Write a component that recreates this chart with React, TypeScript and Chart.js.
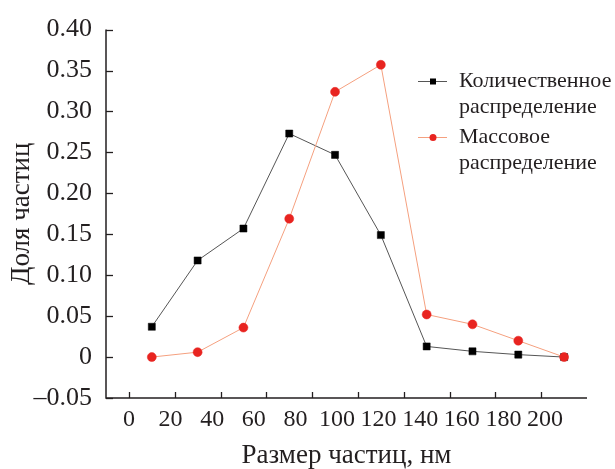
import React, { useEffect, useRef } from "react";
import { Chart, registerables } from "chart.js";

Chart.register(...registerables);

// ---- data ----
const particleSizes = [10, 30, 50, 70, 90, 110, 130, 150, 170, 190];
const countShare = [0.037, 0.118, 0.157, 0.273, 0.247, 0.149, 0.013, 0.007, 0.003, 0.0];
const massShare = [0.0, 0.006, 0.036, 0.169, 0.324, 0.357, 0.052, 0.04, 0.02, 0.0];
const xTickLabels = [0, 20, 40, 60, 80, 100, 120, 140, 160, 180, 200];
const xTickMarks = [0, 20, 40, 60, 80, 100, 120, 140, 160, 180];
const yTickValues = [-0.05, 0, 0.05, 0.1, 0.15, 0.2, 0.25, 0.3, 0.35, 0.4];
const seriesNames = [
  ["Количественное", "распределение"],
  ["Массовое", "распределение"],
];
const xTitle = "Размер частиц, нм";
const yTitle = "Доля частиц";

const FONT = "'Liberation Serif', 'Times New Roman', serif";
const TEXT = "#231f20";

const axesPlugin = {
  id: "axesInward",
  beforeDatasetsDraw(chart: any) {
    const { ctx, chartArea, scales } = chart;
    const { left, right, top, bottom } = chartArea;
    ctx.save();
    ctx.strokeStyle = TEXT;
    ctx.lineWidth = 1.5;
    ctx.beginPath();
    ctx.moveTo(left, top);
    ctx.lineTo(left, bottom);
    ctx.lineTo(right, bottom);
    ctx.stroke();
    ctx.lineWidth = 1.3;
    for (const v of yTickValues) {
      const py = Math.round(scales.y.getPixelForValue(v)) + 0.5;
      ctx.beginPath();
      ctx.moveTo(left, py);
      ctx.lineTo(left + 7, py);
      ctx.stroke();
    }
    for (const v of xTickMarks) {
      const px = Math.round(scales.xd.getPixelForValue(v)) + 0.5;
      ctx.beginPath();
      ctx.moveTo(px, bottom);
      ctx.lineTo(px, bottom - 6);
      ctx.stroke();
    }
    ctx.restore();
  },
};

const legendPlugin = {
  id: "customLegend",
  afterDraw(chart: any) {
    const { ctx } = chart;
    const items = [
      { y: 81.5, line: "#555555", fill: "#000000", style: "rect" },
      { y: 137.5, line: "#f5a07f", fill: "#e82420", style: "circle" },
    ];
    ctx.save();
    items.forEach((it, i) => {
      ctx.strokeStyle = it.line;
      ctx.lineWidth = 1;
      ctx.beginPath();
      ctx.moveTo(418, it.y);
      ctx.lineTo(447, it.y);
      ctx.stroke();
      ctx.fillStyle = it.fill;
      if (it.style === "rect") {
        ctx.fillRect(430, it.y - 3, 6, 6);
      } else {
        ctx.beginPath();
        ctx.arc(433, it.y, 3.5, 0, Math.PI * 2);
        ctx.fill();
      }
      ctx.fillStyle = TEXT;
      ctx.font = `22px ${FONT}`;
      ctx.textBaseline = "middle";
      ctx.textAlign = "left";
      seriesNames[i].forEach((t, j) => {
        ctx.fillText(t, 459, it.y + j * 26);
      });
    });
    ctx.restore();
  },
};

export default function App() {
  const ref = useRef<HTMLCanvasElement>(null);

  useEffect(() => {
    if (!ref.current) return;
    const chart = new Chart(ref.current, {
      type: "line",
      data: {
        datasets: [
          {
            label: seriesNames[0].join(" "),
            data: particleSizes.map((x, i) => ({ x, y: countShare[i] })),
            xAxisID: "xd",
            yAxisID: "y",
            borderColor: "#555555",
            borderWidth: 1,
            pointStyle: "rect",
            pointRadius: 5,
            pointBackgroundColor: "#000000",
            pointBorderColor: "#000000",
            pointBorderWidth: 0.5,
            tension: 0,
            order: 1,
          },
          {
            label: seriesNames[1].join(" "),
            data: particleSizes.map((x, i) => ({ x, y: massShare[i] })),
            xAxisID: "xd",
            yAxisID: "y",
            borderColor: "#f5a07f",
            borderWidth: 1,
            pointStyle: "circle",
            pointRadius: 4.5,
            pointBackgroundColor: "#e82420",
            pointBorderColor: "#e82420",
            pointBorderWidth: 0.5,
            tension: 0,
            order: 0,
          },
        ],
      },
      options: {
        responsive: false,
        animation: false,
        devicePixelRatio: 1,
        layout: { padding: { top: 23, right: 28, left: 0, bottom: 0 } },
        plugins: { legend: { display: false }, tooltip: { enabled: false } },
        scales: {
          xd: {
            type: "linear",
            position: "bottom",
            display: false,
            min: -10,
            max: 200,
          },
          x: {
            type: "linear",
            position: "bottom",
            min: -11.06,
            max: 220.2,
            afterBuildTicks: (s: any) => {
              s.ticks = xTickLabels.map((v) => ({ value: v }));
            },
            afterFit: (s: any) => {
              s.height = 71;
            },
            grid: { display: false, drawTicks: false },
            border: { display: false },
            ticks: {
              autoSkip: false,
              maxRotation: 0,
              padding: 7,
              color: TEXT,
              font: { family: FONT, size: 24 },
              callback: (v: any) => String(v),
            },
            title: {
              display: true,
              text: xTitle,
              color: TEXT,
              font: { family: FONT, size: 27, lineHeight: 1 },
              padding: 0,
            },
          },
          y: {
            type: "linear",
            position: "left",
            min: -0.05,
            max: 0.4,
            afterBuildTicks: (s: any) => {
              s.ticks = yTickValues.map((v) => ({ value: v }));
            },
            afterFit: (s: any) => {
              s.width = 106;
            },
            grid: { display: false, drawTicks: false },
            border: { display: false },
            ticks: {
              padding: 14,
              color: TEXT,
              font: { family: FONT, size: 26 },
              callback: (v: any) => {
                const n = Number(v);
                if (Math.abs(n) < 1e-9) return "0";
                const s = Math.abs(n).toFixed(2);
                return n < 0 ? "\u2013" + s : s;
              },
            },
            title: {
              display: true,
              text: yTitle,
              color: TEXT,
              font: { family: FONT, size: 27, lineHeight: 1 },
              padding: { top: 8, bottom: 0 },
            },
          },
        },
      },
      plugins: [axesPlugin, legendPlugin],
    });
    return () => chart.destroy();
  }, []);

  return (
    <div style={{ position: "absolute", left: 0, top: 0, width: 615, height: 469, background: "#fff" }}>
      <canvas ref={ref} width={615} height={469} style={{ display: "block" }} />
    </div>
  );
}
